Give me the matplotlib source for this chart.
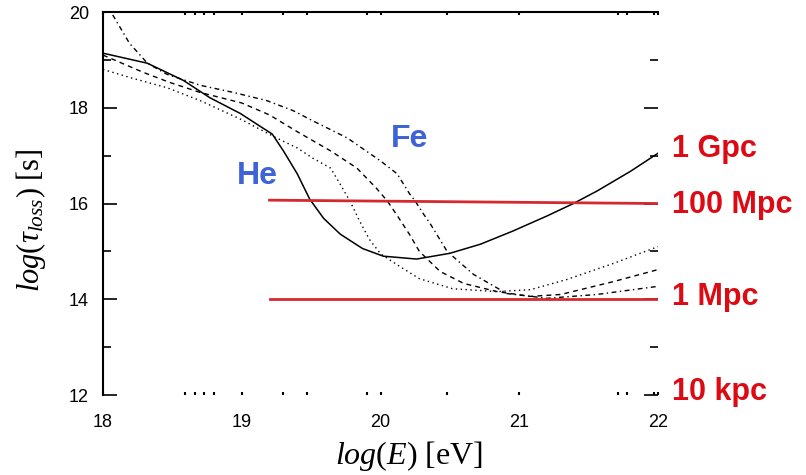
import matplotlib
matplotlib.use("Agg")
import matplotlib.pyplot as plt
from matplotlib.ticker import FixedLocator

plt.rcParams["mathtext.fontset"] = "custom"
plt.rcParams["mathtext.rm"] = "Liberation Serif"
plt.rcParams["mathtext.it"] = "Liberation Serif:italic"

# energy-loss time curves, log10(E/eV) vs log10(tau/s)
he_x = [18.0, 18.32, 18.58, 18.77, 18.99, 19.15, 19.22, 19.3, 19.4, 19.49, 19.59, 19.71,
        19.87, 20.02, 20.26, 20.5, 20.72, 20.95, 21.2, 21.39, 21.56, 21.8, 22.0]
he_y = [19.14, 18.93, 18.57, 18.21, 17.88, 17.58, 17.45, 17.1, 16.62, 16.09, 15.69, 15.36,
        15.06, 14.9, 14.84, 14.96, 15.15, 15.42, 15.74, 16.0, 16.26, 16.67, 17.05]

dot_x = [18.0, 18.22, 18.46, 18.7, 19.0, 19.25, 19.4, 19.51, 19.64, 19.71, 19.78, 19.85,
         19.92, 20.0, 20.12, 20.28, 20.52, 20.84, 21.08, 21.34, 21.68, 22.0]
dot_y = [18.8, 18.61, 18.42, 18.15, 17.75, 17.37, 17.16, 16.95, 16.74, 16.4, 16.05, 15.63,
         15.25, 14.95, 14.72, 14.43, 14.22, 14.16, 14.2, 14.41, 14.75, 15.1]

dash_x = [18.0, 18.29, 18.48, 18.7, 19.0, 19.2, 19.4, 19.64, 19.83, 19.97, 20.05, 20.12,
          20.21, 20.28, 20.43, 20.6, 20.84, 21.08, 21.3, 21.44, 21.68, 22.0]
dash_y = [19.1, 18.74, 18.53, 18.32, 18.1, 17.85, 17.5, 17.1, 16.74, 16.32, 16.05, 15.75,
          15.35, 15.0, 14.58, 14.33, 14.16, 14.06, 14.1, 14.2, 14.37, 14.62]

fe_x = [18.07, 18.19, 18.32, 18.46, 18.7, 18.94, 19.18, 19.37, 19.51, 19.76, 20.0, 20.12,
        20.21, 20.25, 20.31, 20.36, 20.48, 20.67, 20.91, 21.2, 21.56, 22.0]
fe_y = [19.94, 19.35, 18.93, 18.7, 18.47, 18.32, 18.15, 17.94, 17.73, 17.37, 16.89, 16.62,
        16.2, 16.05, 15.78, 15.57, 15.0, 14.52, 14.12, 14.02, 14.1, 14.27]

# propagation distance reference lines
ref_x = [19.2, 22.0]
ref_100mpc = [16.07, 16.0]
ref_1mpc = [14.0, 14.0]

dist_labels = ["1 Gpc", "100 Mpc", "1 Mpc", "10 kpc"]
dist_levels = [17.14, 15.97, 14.05, 12.06]

x_ticks = [18, 19, 20, 21, 22]
x_minor = [18.59, 18.66, 18.73, 18.8, 19.3, 19.47, 19.9, 20.48, 21.71, 21.78, 21.97]
y_ticks = [12, 14, 16, 18, 20]
y_minor = [13, 15, 17, 19]

fig = plt.figure(figsize=(8.06, 4.75), dpi=100)
ax = fig.add_axes([0.1278, 0.1684, 0.6886, 0.8063])

ax.plot(he_x, he_y, color="black", lw=1.1, ls="-")
ax.plot(dot_x, dot_y, color="black", lw=1.0, ls=(0, (1, 2.5)))
ax.plot(dash_x, dash_y, color="black", lw=1.0, ls=(0, (3.5, 3)))
ax.plot(fe_x, fe_y, color="black", lw=1.0, ls=(0, (3.5, 2.5, 1, 2.5)))

red = "#d42a2f"
ax.plot(ref_x, ref_100mpc, color=red, lw=2.0)
ax.plot(ref_x, ref_1mpc, color=red, lw=2.0)

for lab, lev in zip(dist_labels, dist_levels):
    ax.text(22.1, lev, lab, color="#dd0a14", fontsize=22, fontweight="bold",
            family="Liberation Sans", va="center", ha="left", clip_on=False)

blue = "#3d63d6"
ax.text(19.11, 16.58, "He", color=blue, fontsize=23, fontweight="bold",
        family="Liberation Sans", ha="center", va="center")
ax.text(20.21, 17.35, "Fe", color=blue, fontsize=23, fontweight="bold",
        family="Liberation Sans", ha="center", va="center")

ax.set_xlim(18, 22)
ax.set_ylim(12, 20)

for side in ["bottom", "right"]:
    ax.spines[side].set_visible(False)
ax.spines["left"].set_linewidth(1.5)
ax.spines["top"].set_linewidth(1.5)

ax.set_xticks(x_ticks)
ax.xaxis.set_minor_locator(FixedLocator(x_minor))
ax.set_yticks(y_ticks)
ax.yaxis.set_minor_locator(FixedLocator(y_minor))
ax.tick_params(axis="x", which="both", direction="in", top=True, bottom=True,
               length=2, width=1.5, pad=14, labelsize=13)
ax.tick_params(axis="y", which="major", direction="in", left=True, right=True,
               length=10, width=1.2, pad=10, labelsize=13)
ax.tick_params(axis="y", which="minor", direction="in", left=True, right=True,
               length=6, width=1.2)
for lab in ax.get_xticklabels() + ax.get_yticklabels():
    lab.set_family("Liberation Sans")

ax.set_xlabel(r"$log(E)$ [eV]", fontsize=23, family="Liberation Serif")
ax.set_ylabel(r"$log(\tau_{loss})$ [s]", fontsize=22, family="Liberation Serif")
ax.xaxis.set_label_coords(0.551, -0.115)
ax.yaxis.set_label_coords(-0.10, 0.457)

fig.savefig("out.png", dpi=100)
